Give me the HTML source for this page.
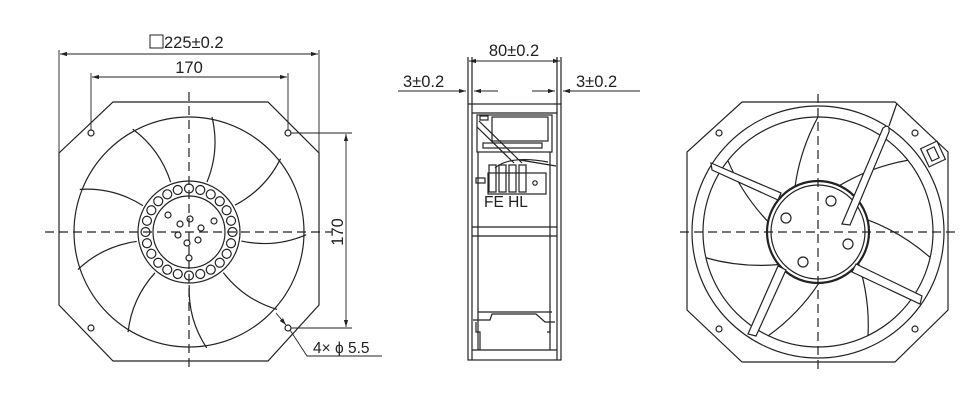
<!DOCTYPE html>
<html><head><meta charset="utf-8"><style>
html,body{margin:0;padding:0;background:#fff;}
svg{display:block;}
text{font-family:"Liberation Sans",Arial,sans-serif;fill:#222;}
</style></head><body>
<svg width="980" height="420" viewBox="0 0 980 420" xmlns="http://www.w3.org/2000/svg">
<defs>
<marker id="a" viewBox="0 0 10 10" refX="10" refY="5" markerWidth="8" markerHeight="8" orient="auto-start-reverse"><path d="M0,2 L10,5 L0,8 z" fill="#222"/></marker>
</defs>
<g fill="none" stroke="#222" stroke-width="1.2">
<!-- LEFT FAN -->
<path d="M113,102 L268,102 L319,153 L319,305 L268,361 L113,361 L59,305 L59,153 Z"/>
<circle cx="189" cy="232" r="115"/>
<circle cx="189" cy="232" r="51"/>
<circle cx="189" cy="232" r="36"/>
<g id="bl">
<path d="M207,182 Q220,150 212,117"/>
</g>
<use href="#bl" transform="rotate(40 189 232)"/>
<use href="#bl" transform="rotate(80 189 232)"/>
<use href="#bl" transform="rotate(120 189 232)"/>
<use href="#bl" transform="rotate(160 189 232)"/>
<use href="#bl" transform="rotate(200 189 232)"/>
<use href="#bl" transform="rotate(240 189 232)"/>
<use href="#bl" transform="rotate(280 189 232)"/>
<use href="#bl" transform="rotate(320 189 232)"/>
<g id="hr"><circle cx="189" cy="188.5" r="4.5"/></g>
<use href="#hr" transform="rotate(15 189 232)"/><use href="#hr" transform="rotate(30 189 232)"/><use href="#hr" transform="rotate(45 189 232)"/><use href="#hr" transform="rotate(60 189 232)"/><use href="#hr" transform="rotate(75 189 232)"/><use href="#hr" transform="rotate(90 189 232)"/><use href="#hr" transform="rotate(105 189 232)"/><use href="#hr" transform="rotate(120 189 232)"/><use href="#hr" transform="rotate(135 189 232)"/><use href="#hr" transform="rotate(150 189 232)"/><use href="#hr" transform="rotate(165 189 232)"/><use href="#hr" transform="rotate(180 189 232)"/><use href="#hr" transform="rotate(195 189 232)"/><use href="#hr" transform="rotate(210 189 232)"/><use href="#hr" transform="rotate(225 189 232)"/><use href="#hr" transform="rotate(240 189 232)"/><use href="#hr" transform="rotate(255 189 232)"/><use href="#hr" transform="rotate(270 189 232)"/><use href="#hr" transform="rotate(285 189 232)"/><use href="#hr" transform="rotate(300 189 232)"/><use href="#hr" transform="rotate(315 189 232)"/><use href="#hr" transform="rotate(330 189 232)"/><use href="#hr" transform="rotate(345 189 232)"/>
<circle cx="168" cy="215" r="3"/><circle cx="180" cy="224" r="3"/><circle cx="190" cy="219" r="3"/><circle cx="201" cy="228" r="3"/><circle cx="214" cy="221" r="3"/><circle cx="178" cy="235" r="3"/><circle cx="198" cy="240" r="3"/><circle cx="187" cy="243" r="3"/><circle cx="189" cy="258" r="3"/>
<circle cx="91" cy="133" r="3"/><circle cx="288" cy="133" r="3"/><circle cx="91" cy="328" r="3"/><circle cx="288" cy="328" r="3"/>
<path d="M45,232 H332 M189,92 V370" stroke-dasharray="9,5"/>
<path d="M59,50 V153 M319,50 V153 M91,73 V130 M288,73 V130 M291,133 H352 M291,328 H352" stroke-width="0.9"/>
<path d="M60,54 H318" marker-start="url(#a)" marker-end="url(#a)" stroke-width="0.9"/>
<path d="M92,77 H287" marker-start="url(#a)" marker-end="url(#a)" stroke-width="0.9"/>
<path d="M346,134 V327" marker-start="url(#a)" marker-end="url(#a)" stroke-width="0.9"/>
<path d="M276,313 L286,325" marker-end="url(#a)" stroke-width="0.9"/>
<path d="M290,330 L307,356 H382" stroke-width="0.9"/>
<!-- MIDDLE -->
<rect x="468" y="104" width="93" height="256"/>
<path d="M472,57 V360 M557,57 V360 M468,57 V104 M561,57 V104 M472,113 H557 M472,350 H557 M478,152 V350 M550,152 V350 M472,227 H557 M472,236 H557"/>
<rect x="477" y="115" width="75" height="37"/>
<rect x="492" y="117" width="56" height="24"/>
<rect x="483" y="143" width="59" height="5"/>
<rect x="480" y="116" width="8" height="4"/>
<path d="M477,127 L514,163 M479,121 L522,163 M495,168 Q510,155 548,162 M520,160 L556,166"/>
<rect x="488" y="173" width="58" height="21"/>
<rect x="489" y="165" width="7" height="27"/><rect x="499" y="165" width="7" height="27"/><rect x="509" y="165" width="7" height="27"/><rect x="519" y="165" width="7" height="27"/>
<rect x="476" y="178" width="9" height="5"/>
<circle cx="535" cy="183" r="2.2"/>
<path d="M478,312 H552 M473,320 L490,320 L492,314 L536,314 L545,322 L555,322 M476,322 V332 L480,332 V350 M550,322 V332 L547,332"/>
<path d="M469,61 H560" marker-start="url(#a)" marker-end="url(#a)" stroke-width="0.9"/>
<path d="M398,91 H466" marker-end="url(#a)" stroke-width="0.9"/>
<path d="M640,91 H563" marker-end="url(#a)" stroke-width="0.9"/>
<path d="M498,91 H474" marker-end="url(#a)" stroke-width="0.9"/>
<path d="M532,91 H555" marker-end="url(#a)" stroke-width="0.9"/>
<!-- RIGHT FAN -->
<path d="M742,102 L895,102 L948,152 L948,310 L895,362 L742,362 L687,310 L687,152 Z"/>
<circle cx="818" cy="232" r="126"/>
<circle cx="818" cy="232" r="115"/>
<circle cx="818" cy="232" r="51" stroke-width="2.2"/>
<circle cx="818" cy="232" r="47"/>
<circle cx="831" cy="201" r="5"/><circle cx="786" cy="218" r="5"/><circle cx="848" cy="244" r="5"/><circle cx="803" cy="262" r="5"/>
<circle cx="719" cy="133" r="3"/><circle cx="915" cy="133" r="3"/><circle cx="719" cy="329" r="3"/><circle cx="915" cy="329" r="3"/>
<g id="rb"><path d="M818,117 Q800,150 795,187"/></g>
<use href="#rb" transform="rotate(51.4 818 232)"/><use href="#rb" transform="rotate(102.8 818 232)"/><use href="#rb" transform="rotate(154.2 818 232)"/><use href="#rb" transform="rotate(205.6 818 232)"/><use href="#rb" transform="rotate(257 818 232)"/><use href="#rb" transform="rotate(308.4 818 232)"/>
<path d="M711,163 L781,193 L778,200 L712,170 Z" fill="#fff"/>
<path d="M748,334 L778,266 L786,270 L756,336 Z" fill="#fff"/>
<path d="M856,264 L922,296 L920,304 L852,272 Z" fill="#fff"/>
<path d="M842,224 L883,128 Q890,123 889,132 L850,225 Z" fill="#fff"/>
<path d="M889,126 L897,103"/>
<rect x="924" y="144" width="18" height="20" transform="rotate(-25 933 154)"/>
<rect x="929" y="148" width="8" height="12" transform="rotate(-25 933 154)"/>
<path d="M680,232 H955 M818,94 V370" stroke-dasharray="9,5"/>
</g>
<rect x="150" y="35" width="13" height="13" fill="none" stroke="#222" stroke-width="1"/>
<text x="164" y="48" font-size="16.5">225±0.2</text>
<text x="189" y="73" font-size="16.5" text-anchor="middle">170</text>
<text transform="translate(343,232) rotate(-90)" font-size="16.5" text-anchor="middle">170</text>
<text x="313" y="353" font-size="15.5">4× ϕ 5.5</text>
<text x="514" y="56" font-size="16.5" text-anchor="middle">80±0.2</text>
<text x="403" y="87" font-size="16.5">3±0.2</text>
<text x="576" y="87" font-size="16.5">3±0.2</text>
<text x="484" y="207" font-size="15.5">FE HL</text>
</svg>
</body></html>
